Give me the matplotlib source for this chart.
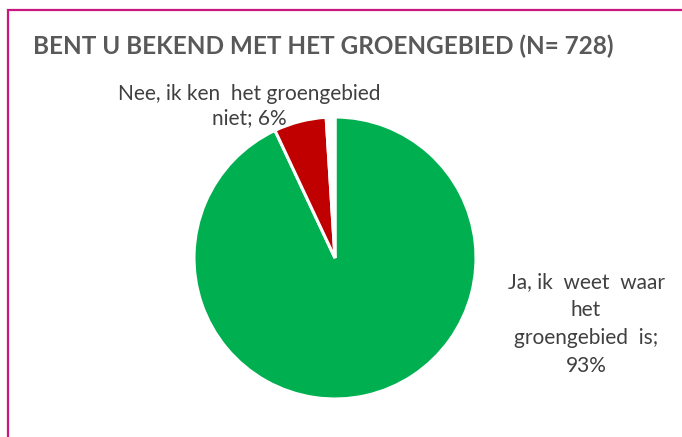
import matplotlib
matplotlib.use("Agg")
import matplotlib.pyplot as plt
from matplotlib.patches import Rectangle

title = "BENT U BEKEND MET HET GROENGEBIED (N= 728)"
categories = ["Ja, ik  weet  waar\nhet\ngroengebied  is;\n93%",
              "Nee, ik ken  het groengebied\nniet; 6%",
              ""]
values = [93, 6, 1]
colors = ["#00B050", "#C00000", "#FFFFFF"]

W, H = 682, 437
fig = plt.figure(figsize=(W / 100, H / 100), dpi=100)
fig.patch.set_facecolor("white")

# magenta frame (cropped chart border)
fig.add_artist(Rectangle((8 / W, -0.1), 1.2, 1 - 10 / H + 0.1, transform=fig.transFigure,
                         fill=False, edgecolor="#C8177F", linewidth=1.6))

cx, cy, r = 335, 258, 141
ax = fig.add_axes([(cx - r) / W, (H - cy - r) / H, 2 * r / W, 2 * r / H])
ax.pie(values, colors=colors, startangle=90, counterclock=False, radius=1,
       wedgeprops=dict(edgecolor="white", linewidth=2.2))
ax.set_xlim(-1, 1)
ax.set_ylim(-1, 1)
ax.set_aspect("auto")
ax.axis("off")

fig.text(323 / W, 1 - 46 / H, title, ha="center", va="center", fontsize=17.5,
         fontweight="bold", color="#595959", family="Lato")

fig.text(249 / W, 1 - 106 / H, categories[1], ha="center", va="center", fontsize=15,
         color="#404040", family="Lato", linespacing=1.3)
fig.text(586 / W, 1 - 324 / H, categories[0], ha="center", va="center", fontsize=15,
         color="#404040", family="Lato", linespacing=1.48)

fig.savefig("out.png", dpi=100)
